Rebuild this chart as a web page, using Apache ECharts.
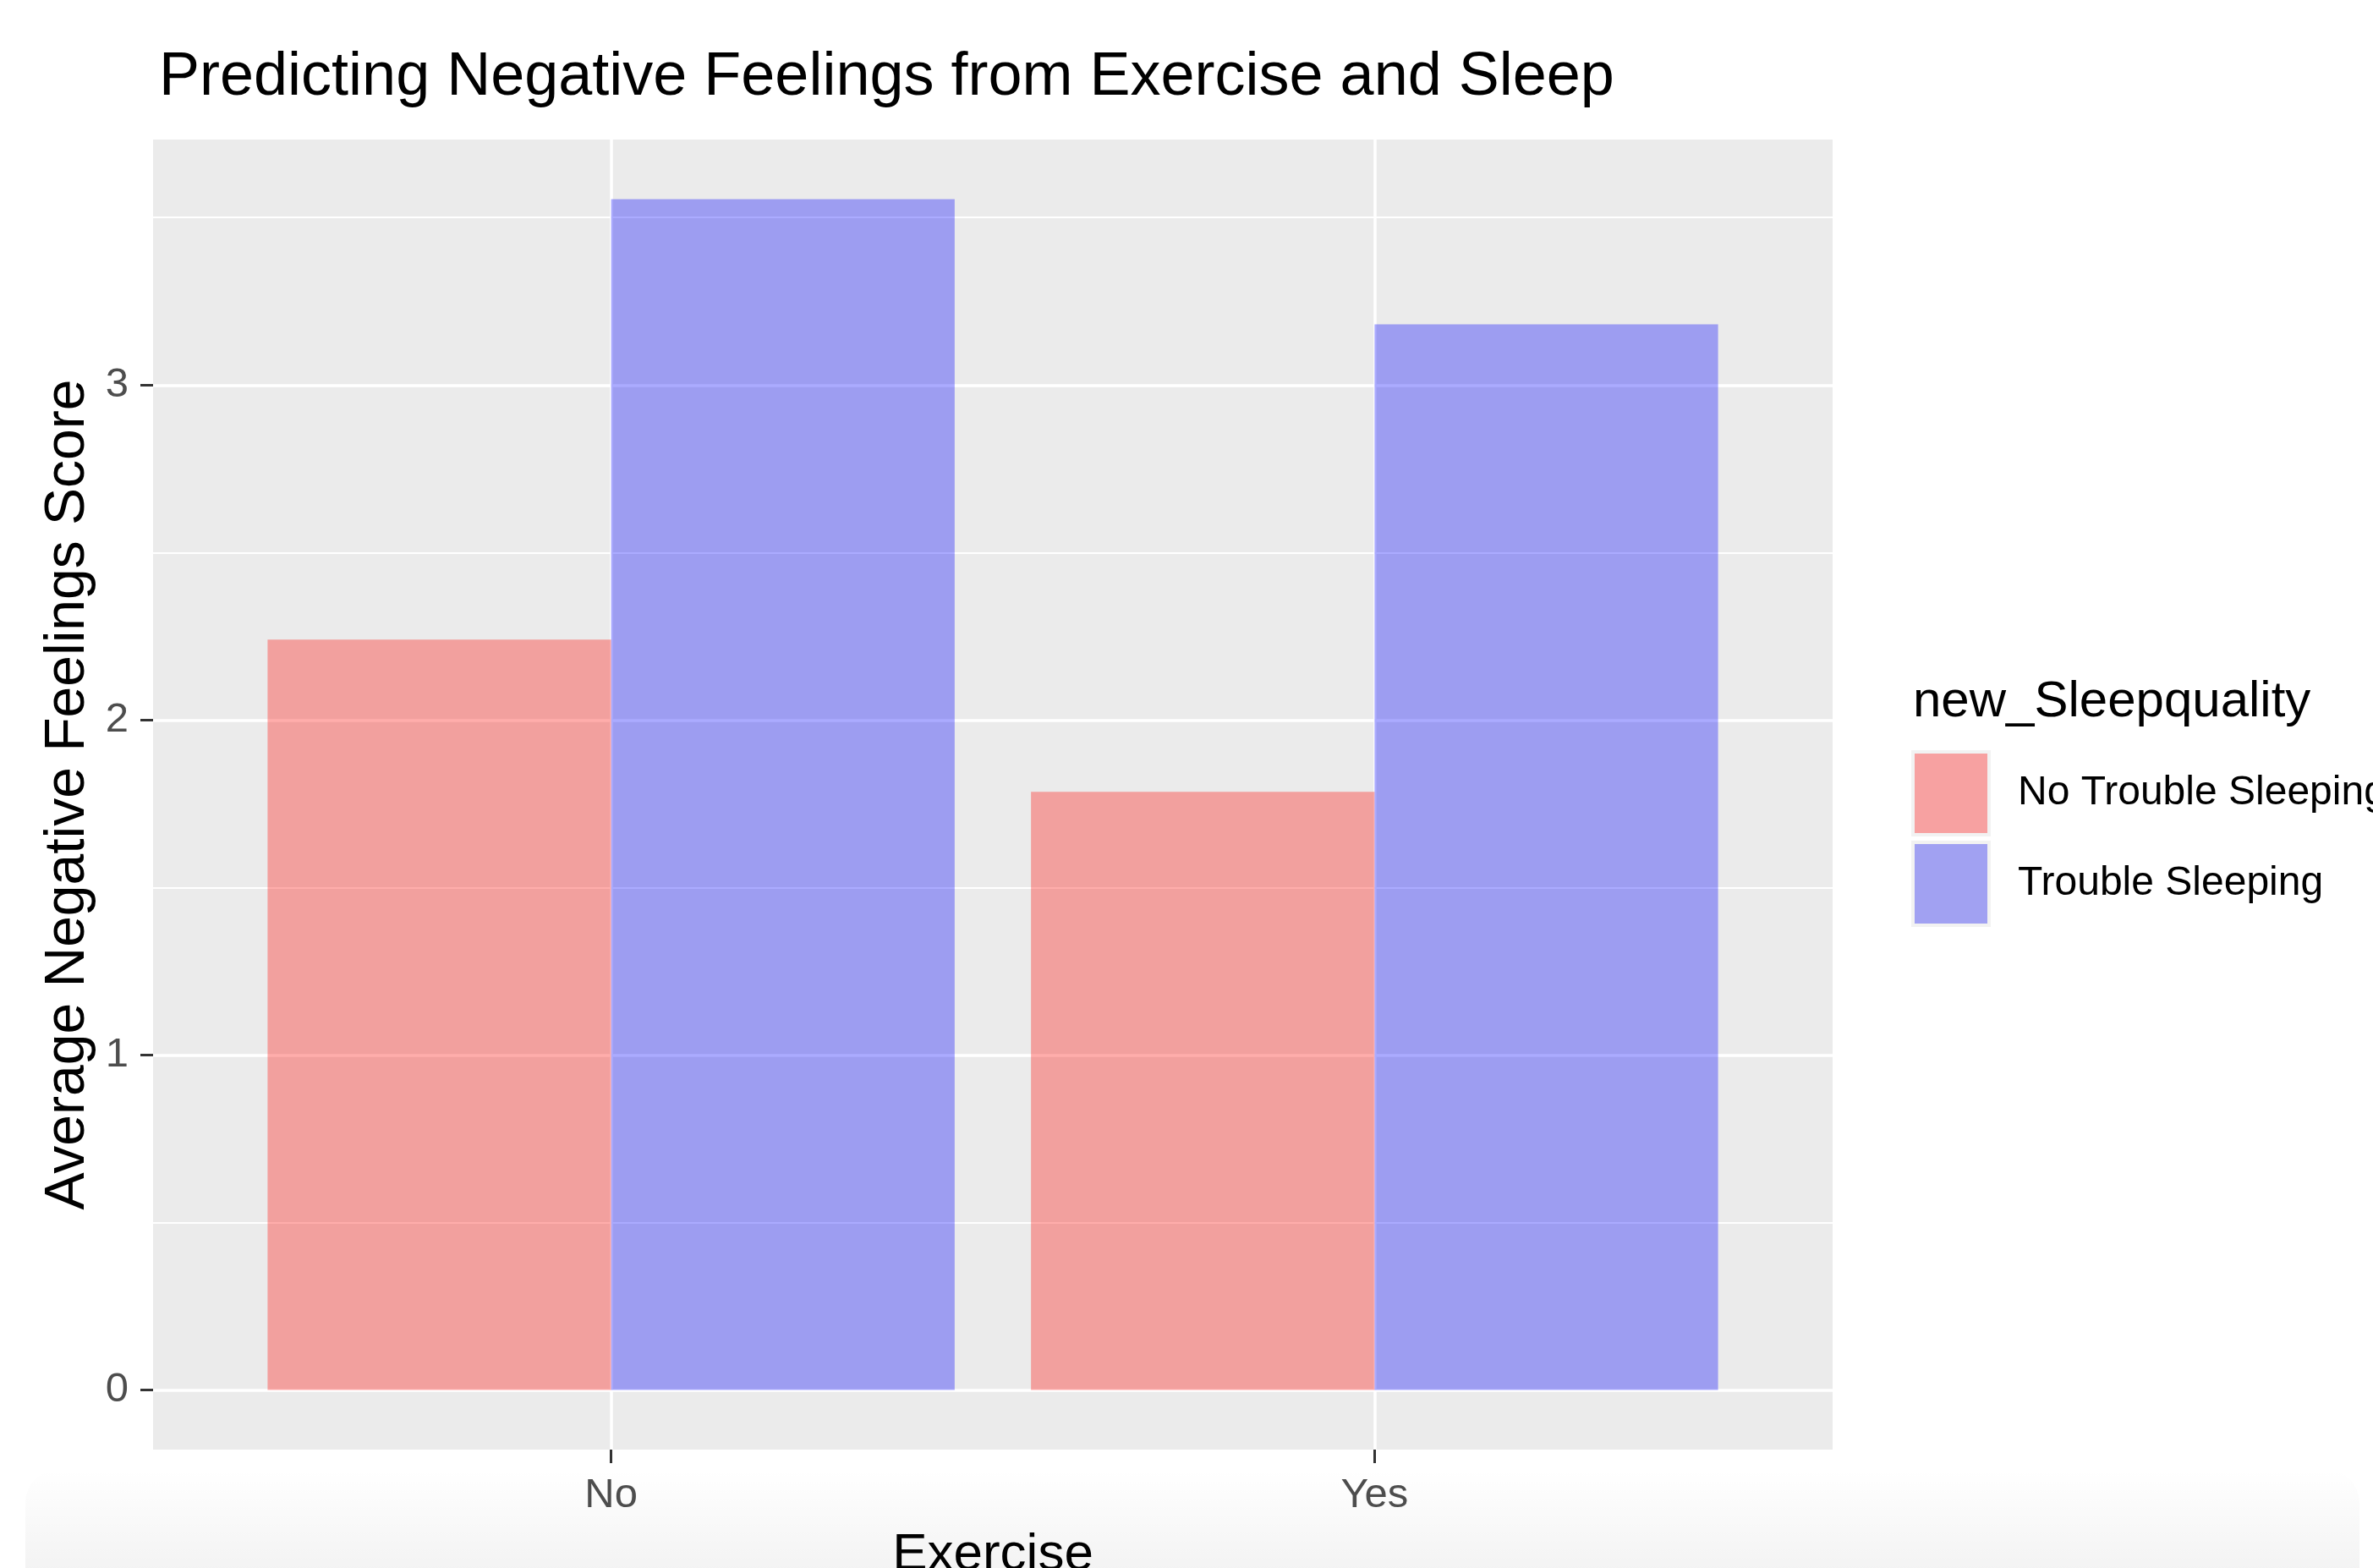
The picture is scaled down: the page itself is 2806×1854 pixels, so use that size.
<!DOCTYPE html>
<html><head><meta charset="utf-8">
<script src="https://cdn.jsdelivr.net/npm/echarts@6/dist/echarts.min.js"></script>
<style>html,body{margin:0;padding:0;background:#fff}#c{width:2806px;height:1854px}</style>
</head><body><div id="c"></div>
<script>
const categories = ['No', 'Yes'];
const seriesNames = ['No Trouble Sleeping', 'Trouble Sleeping'];
const noTrouble = [2.24, 1.786];
const trouble = [3.555, 3.181];
const yTicks = [0, 1, 2, 3];
const yMinorTicks = [0.5, 1.5, 2.5, 3.5];

const chart = echarts.init(document.getElementById('c'));
const allVals = noTrouble.concat(trouble);
const hi = Math.max(...allVals, 0), lo = Math.min(...allVals, 0);
const span = hi - lo;
const yMin = lo - 0.05 * span, yMax = hi + 0.05 * span;
const xPos = categories.map((c, i) => i + 1);
const xMin = 1 - 0.6, xMax = categories.length + 0.6;
const font = '"Liberation Sans", Arial, Helvetica, sans-serif';

function toPairs(vals) { return vals.map((v, i) => [xPos[i], v]); }

chart.setOption({
  animation: false,
  backgroundColor: '#ffffff',
  title: [
    { text: 'Predicting Negative Feelings from Exercise and Sleep', left: 183, top: 51,
      textStyle: { fontFamily: font, fontSize: 72, fontWeight: 'normal', color: '#000' } },
    { text: 'new_Sleepquality', left: 2257, top: 795,
      textStyle: { fontFamily: font, fontSize: 60, fontWeight: 'normal', color: '#000' } }
  ],
  graphic: [{
    type: 'rect', z: -10, silent: true,
    shape: { x: 30, y: 1737, width: 2760, height: 130, r: [40, 40, 0, 0] },
    style: { fill: new echarts.graphic.LinearGradient(0, 0, 0, 1, [
      { offset: 0, color: 'rgba(0,0,0,0)' }, { offset: 1, color: 'rgba(0,0,0,0.05)' }]) }
  }],
  legend: {
    orient: 'vertical', left: 2260, top: 887, padding: 0,
    itemWidth: 90, itemHeight: 98, itemGap: 5, icon: 'rect',
    itemStyle: { borderColor: '#F2F2F2', borderWidth: 4 },
    textStyle: { fontFamily: font, fontSize: 48, color: '#000', padding: [0, 0, 0, 29] },
    data: [
      { name: seriesNames[0], itemStyle: { color: '#F7A1A1' } },
      { name: seriesNames[1], itemStyle: { color: '#A1A1F2' } }
    ]
  },
  grid: { left: 181, right: 639, top: 165, bottom: 140, show: true,
    backgroundColor: '#EBEBEB', borderWidth: 0, containLabel: false, outerBoundsMode: 'none' },
  xAxis: {
    type: 'value', min: xMin, max: xMax,
    name: 'Exercise', nameLocation: 'middle', nameGap: 94,
    nameTextStyle: { fontFamily: font, fontSize: 62, color: '#000' },
    axisLine: { show: false, onZero: false },
    axisTick: { show: true, length: 16, customValues: xPos, lineStyle: { color: '#333333', width: 3 } },
    axisLabel: { customValues: xPos, margin: 30, fontFamily: font, fontSize: 49, color: '#4D4D4D',
      formatter: v => categories[Math.round(v) - 1] },
    splitLine: { show: true, lineStyle: { color: '#FFFFFF', width: 3.5 } }
  },
  yAxis: [{
    type: 'value', min: yMin, max: yMax,
    name: 'Average Negative Feelings Score', nameLocation: 'middle', nameGap: 62,
    nameTextStyle: { fontFamily: font, fontSize: 66, color: '#000' },
    axisLine: { show: false, onZero: false },
    axisTick: { show: true, length: 15, customValues: yTicks, lineStyle: { color: '#333333', width: 3 } },
    axisLabel: { customValues: yTicks, margin: 29, fontFamily: font, fontSize: 49, color: '#4D4D4D' },
    splitLine: { show: true, lineStyle: { color: '#FFFFFF', width: 3.5 } }
  }, {
    type: 'value', min: yMin, max: yMax, position: 'left',
    axisLine: { show: false, onZero: false },
    axisTick: { show: false, customValues: yMinorTicks },
    axisLabel: { show: false, customValues: yMinorTicks },
    splitLine: { show: true, lineStyle: { color: '#FFFFFF', width: 1.8 } }
  }],
  series: [
    { name: seriesNames[0], type: 'bar', data: toPairs(noTrouble), barWidth: '45%', barGap: '0%',
      itemStyle: { color: 'rgba(255,40,35,0.38)' } },
    { name: seriesNames[1], type: 'bar', data: toPairs(trouble), barWidth: '45%', barGap: '0%',
      itemStyle: { color: 'rgba(0,0,255,0.33)' } }
  ]
});
</script></body></html>
